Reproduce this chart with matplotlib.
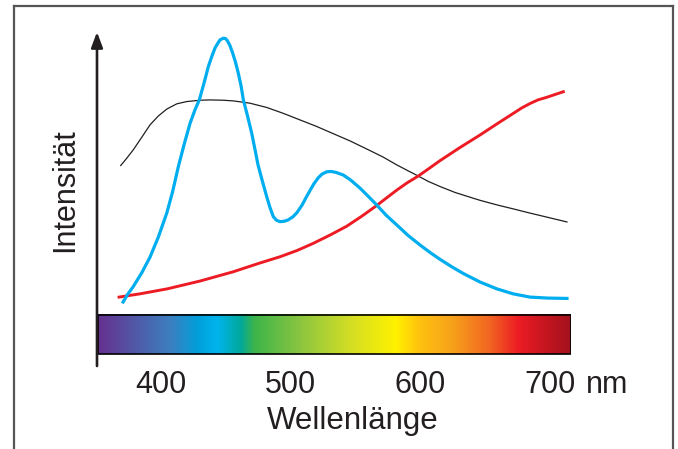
import numpy as np
import matplotlib
matplotlib.use('Agg')
from matplotlib import pyplot as plt
from matplotlib.colors import LinearSegmentedColormap
from matplotlib.lines import Line2D
from matplotlib.patches import Rectangle

plt.rcParams['font.family'] = ['Liberation Sans', 'DejaVu Sans']

# wavelength (nm) / relative intensity
black_wl = [368.9, 373.5, 378.6, 385.1, 391.5, 397.9, 404.4, 412.1, 419.8, 430.1,
            437.8, 448.0, 455.8, 468.6, 481.5, 494.3, 507.2, 520.1, 532.9, 545.8,
            559.9, 571.2, 581.8, 590.5, 598.4, 605.9, 615.2, 626.7, 633.1, 646.0,
            659.1, 671.5, 684.6, 698.4, 713.1]
black_int = [61.1, 63.3, 65.9, 69.7, 73.5, 76.2, 78.3, 79.9, 80.6, 81.0,
             81.1, 81.0, 80.8, 80.1, 78.8, 77.0, 75.0, 73.0, 70.8, 68.6,
             65.9, 63.7, 61.3, 59.5, 57.9, 56.3, 54.7, 52.9, 52.1, 50.5,
             49.1, 47.9, 46.6, 45.3, 43.9]

blue_wl = [370.7, 374.5, 378.4, 385.1, 391.5, 397.9, 404.4, 408.9, 413.3, 417.7,
           422.4, 426.2, 429.5, 433.2, 436.5, 439.3, 441.6, 444.0, 445.5, 448.0,
           449.7, 451.1, 453.2, 455.3, 457.5, 459.6, 461.7, 463.5, 466.7, 469.9,
           472.5, 474.8, 477.9, 481.5, 484.1, 486.6, 489.1, 491.8, 494.9, 497.9,
           501.8, 504.9, 508.7, 511.8, 514.9, 518.0, 521.1, 524.2, 527.8, 531.1,
           535.0, 540.6, 546.5, 553.5, 559.6, 566.3, 573.5, 581.8, 590.5, 599.7,
           607.5, 615.2, 624.4, 633.1, 646.0, 659.1, 671.5, 684.6, 698.4, 713.1]
blue_int = [19.5, 22.0, 24.1, 28.4, 33.2, 39.3, 46.6, 53.1, 60.7, 67.4,
            74.0, 78.1, 81.1, 86.3, 91.3, 94.5, 96.9, 98.5, 99.4, 99.9,
            99.8, 99.2, 97.6, 95.3, 92.5, 89.2, 85.4, 81.1, 76.2, 71.0,
            65.9, 61.3, 56.7, 51.6, 48.2, 45.5, 44.4, 44.0, 44.1, 44.5,
            45.5, 46.8, 49.0, 51.3, 53.5, 55.6, 57.3, 58.5, 59.2, 59.3,
            59.0, 58.2, 56.6, 54.2, 51.8, 49.1, 46.0, 43.0, 39.8, 36.9,
            34.6, 32.5, 30.2, 28.2, 25.6, 23.5, 22.0, 21.0, 20.7, 20.6]

red_wl = [367.6, 383.8, 404.6, 430.1, 455.5, 476.3, 491.8, 504.9, 517.5, 530.3,
          543.2, 555.0, 566.3, 573.5, 581.8, 589.7, 598.4, 606.7, 615.2, 630.6,
          646.0, 659.1, 671.7, 678.4, 684.6, 690.7, 697.5, 710.3]
red_int = [21.0, 22.0, 23.5, 25.9, 28.7, 31.4, 33.3, 35.2, 37.4, 39.9,
           42.6, 45.7, 48.9, 51.1, 53.6, 55.8, 57.9, 60.2, 62.6, 66.6,
           70.4, 73.8, 77.0, 78.7, 80.0, 81.1, 81.9, 83.6]

ticks = [400, 500, 600, 700]
tick_labels = ['400', '500', '600', '700']

# spectrum bar colours (position along bar, colour)
spec_pos = [0.0, 0.15, 0.21, 0.25, 0.30, 0.33, 0.43, 0.54, 0.63, 0.68, 0.75, 0.83, 0.89, 1.0]
spec_col = ['#65318f', '#3d7ebf', '#009fda', '#00b4ed', '#00a99d', '#3cb44a', '#8dc63f',
            '#d7df23', '#fff200', '#ffc20e', '#f7a21b', '#f26522', '#ed1c24', '#a3111d']

txt = '#231f20'
W, H = 678, 449
fig = plt.figure(figsize=(W / 100, H / 100), dpi=100)
ax = fig.add_axes([97 / W, (H - 366) / H, (571 - 97) / W, (366 - 32) / H])
ax.set_xlim(350.6, 716.2)
ax.set_ylim(0, 101.8)

ax.plot(black_wl, black_int, color=txt, lw=0.9, solid_joinstyle='round')
ax.plot(red_wl, red_int, color='#ed1c24', lw=2.1, solid_joinstyle='round')
ax.plot(blue_wl, blue_int, color='#00aeef', lw=2.3, solid_joinstyle='round')

# spectrum bar
cmap = LinearSegmentedColormap.from_list('spec', list(zip(spec_pos, spec_col)))
grad = np.linspace(0, 1, 600).reshape(1, -1)
ext = [351.4, 716.2, 3.66, 15.55]
ax.imshow(grad, cmap=cmap, extent=ext, aspect='auto', zorder=2)
ax.add_patch(Rectangle((ext[0], ext[2]), ext[1] - ext[0], ext[3] - ext[2],
                       fill=False, ec='black', lw=1.2, zorder=3))

for s in ax.spines.values():
    s.set_visible(False)
ax.set_yticks([])
ax.set_xticks(ticks)
ax.set_xticklabels(tick_labels)
ax.tick_params(axis='x', length=0, pad=3, labelsize=22, labelcolor=txt)
ax.text(728, -1.28, 'nm', fontsize=22, color=txt, ha='left', va='top')
ax.set_xlabel('Wellenlänge', fontsize=22.5, color=txt)
ax.xaxis.set_label_coords(0.540, -0.120)
ax.set_ylabel('Intensität', fontsize=22, color=txt)
ax.yaxis.set_label_coords(-0.035, 0.527)

# y axis arrow
ax.annotate('', xy=(0, 1), xytext=(0, 0), xycoords='axes fraction',
            arrowprops=dict(arrowstyle='-|>,head_length=0.4,head_width=0.15',
                            mutation_scale=23, lw=1.9, color=txt,
                            shrinkA=0, shrinkB=0))

# frame around picture (no bottom line)
fc = '#555555'
fig.add_artist(Line2D([13.5 / W, 13.5 / W], [0, 1 - 6 / H], color=fc, lw=1.6))
fig.add_artist(Line2D([13.5 / W, 673 / W], [1 - 6 / H, 1 - 6 / H], color=fc, lw=1.6))
fig.add_artist(Line2D([673 / W, 673 / W], [0, 1 - 6 / H], color=fc, lw=1.6))

fig.savefig('out.png', dpi=100)
